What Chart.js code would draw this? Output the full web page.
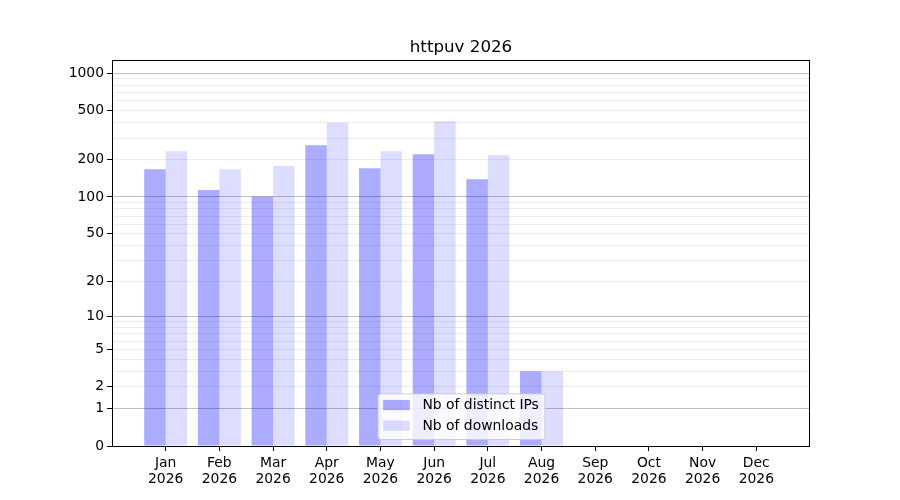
<!DOCTYPE html>
<html lang="en">
<head>
  <meta charset="UTF-8">
  <title>httpuv 2026</title>
  <script src="https://cdn.jsdelivr.net/npm/chart.js"></script>
  <style>
    html, body { margin: 0; padding: 0; background: #fff; }
  </style>
</head>
<body>
  <canvas id="chart" width="900" height="500"></canvas>

  <script>
    const months = ["Jan", "Feb", "Mar", "Apr", "May", "Jun", "Jul", "Aug", "Sep", "Oct", "Nov", "Dec"];
    const year = "2026";
    const distinctIps = [168, 114, 101, 263, 171, 222, 139, 3, 0, 0, 0, 0];
    const downloads = [235, 168, 178, 399, 235, 411, 218, 3, 0, 0, 0, 0];

    // y axis is log10(1 + v)
    const yLabelled = [0, 1, 2, 5, 10, 20, 50, 100, 200, 500, 1000];
    const yMajor = [1, 10, 100, 1000];
    const yMinor = [3, 4, 6, 7, 8, 9, 30, 40, 60, 70, 80, 90, 300, 400, 600, 700, 800, 900];
    const yAll = yLabelled.concat(yMinor).sort((a, b) => a - b);

    const f = v => Math.log10(1 + v);
    const FONT = "DejaVu Sans";

    const ipColor = "rgba(0, 0, 255, 0.33)";
    const dlColor = "rgba(0, 0, 255, 0.135)";

    // title, frame and the legend box inside the plot
    const decor = {
      id: "decor",
      afterDraw(chart) {
        const ctx = chart.ctx;
        const a = chart.chartArea;
        const cx = (a.left + a.right) / 2;

        ctx.save();
        ctx.strokeStyle = "#000";
        ctx.lineWidth = 1;
        ctx.strokeRect(Math.round(a.left) + 0.5, Math.round(a.top) + 0.5,
                       Math.round(a.right - a.left) - 1, Math.round(a.bottom - a.top));

        ctx.fillStyle = "#000";
        ctx.font = "16.7px '" + FONT + "'";
        ctx.textAlign = "center";
        ctx.textBaseline = "alphabetic";
        ctx.fillText("httpuv 2026", cx, 52);

        // legend
        ctx.font = "13.9px '" + FONT + "'";
        const items = chart.data.datasets;
        const tw = Math.max(...items.map(d => ctx.measureText(d.label).width));
        const w = 5.6 + 26.7 + 12.6 + tw + 5.6;
        const h = 45.6;
        const x0 = cx - w / 2;
        const y0 = a.bottom - 7 - h;

        ctx.beginPath();
        ctx.roundRect(x0 + 0.5, y0 + 0.5, w, h, 3);
        ctx.fillStyle = "rgba(255,255,255,0.8)";
        ctx.fill();
        ctx.strokeStyle = "#cccccc";
        ctx.stroke();

        ctx.textAlign = "left";
        ctx.textBaseline = "middle";
        items.forEach((d, i) => {
          const ry = y0 + 6.5 + i * 20.6;
          ctx.fillStyle = d.backgroundColor;
          ctx.fillRect(x0 + 5.6, ry, 26.7, 10.3);
          ctx.fillStyle = "#000";
          ctx.fillText(d.label, x0 + 5.6 + 26.7 + 12.6, ry + 5.5);
        });
        ctx.restore();
      }
    };

    const ctx = document.getElementById("chart").getContext("2d");

    new Chart(ctx, {
      type: "bar",
      data: {
        datasets: [
          {
            label: "Nb of distinct IPs",
            data: distinctIps.map((v, i) => ({ x: i, y: f(v) })),
            backgroundColor: ipColor
          },
          {
            label: "Nb of downloads",
            data: downloads.map((v, i) => ({ x: i, y: f(v) })),
            backgroundColor: dlColor
          }
        ]
      },
      options: {
        responsive: false,
        animation: false,
        layout: { padding: { top: 60, right: 90, left: 0, bottom: 0 } },
        datasets: {
          bar: { categoryPercentage: 0.8, barPercentage: 1.0, borderWidth: 0 }
        },
        plugins: {
          legend: { display: false },
          title: { display: false },
          tooltip: { enabled: false }
        },
        scales: {
          x: {
            type: "linear",
            offset: false,
            min: -1,
            max: 12,
            afterBuildTicks: s => { s.ticks = months.map((m, i) => ({ value: i })); },
            afterFit: s => { s.height = 54; },
            ticks: {
              callback: v => [months[v], year],
              color: "#000",
              font: { family: FONT, size: 13.9, lineHeight: 1.1 },
              padding: 5,
              maxRotation: 0,
              autoSkip: false
            },
            grid: { offset: false, drawOnChartArea: false, drawTicks: true, tickLength: 5, tickColor: "#000" },
            border: { display: false }
          },
          y: {
            type: "linear",
            min: 0,
            max: 3.107,
            afterBuildTicks: s => { s.ticks = yAll.map(v => ({ value: f(v) })); },
            afterFit: s => { s.width = 112; },
            ticks: {
              callback: (v, i) => yLabelled.includes(yAll[i]) ? String(yAll[i]) : "",
              color: "#000",
              font: { family: FONT, size: 13.9 },
              padding: 3,
              autoSkip: false
            },
            grid: {
              color: c => {
                const v = yAll[c.index];
                if (v === 0) return "rgba(0,0,0,0)";
                return yMajor.includes(v) ? "rgba(0,0,0,0.25)" : "rgba(0,0,0,0.075)";
              },
              tickColor: c => yLabelled.includes(yAll[c.index]) ? "#000" : "rgba(0,0,0,0)",
              tickLength: 5,
              lineWidth: 1
            },
            border: { display: false }
          }
        }
      },
      plugins: [decor]
    });
  </script>
</body>
</html>
